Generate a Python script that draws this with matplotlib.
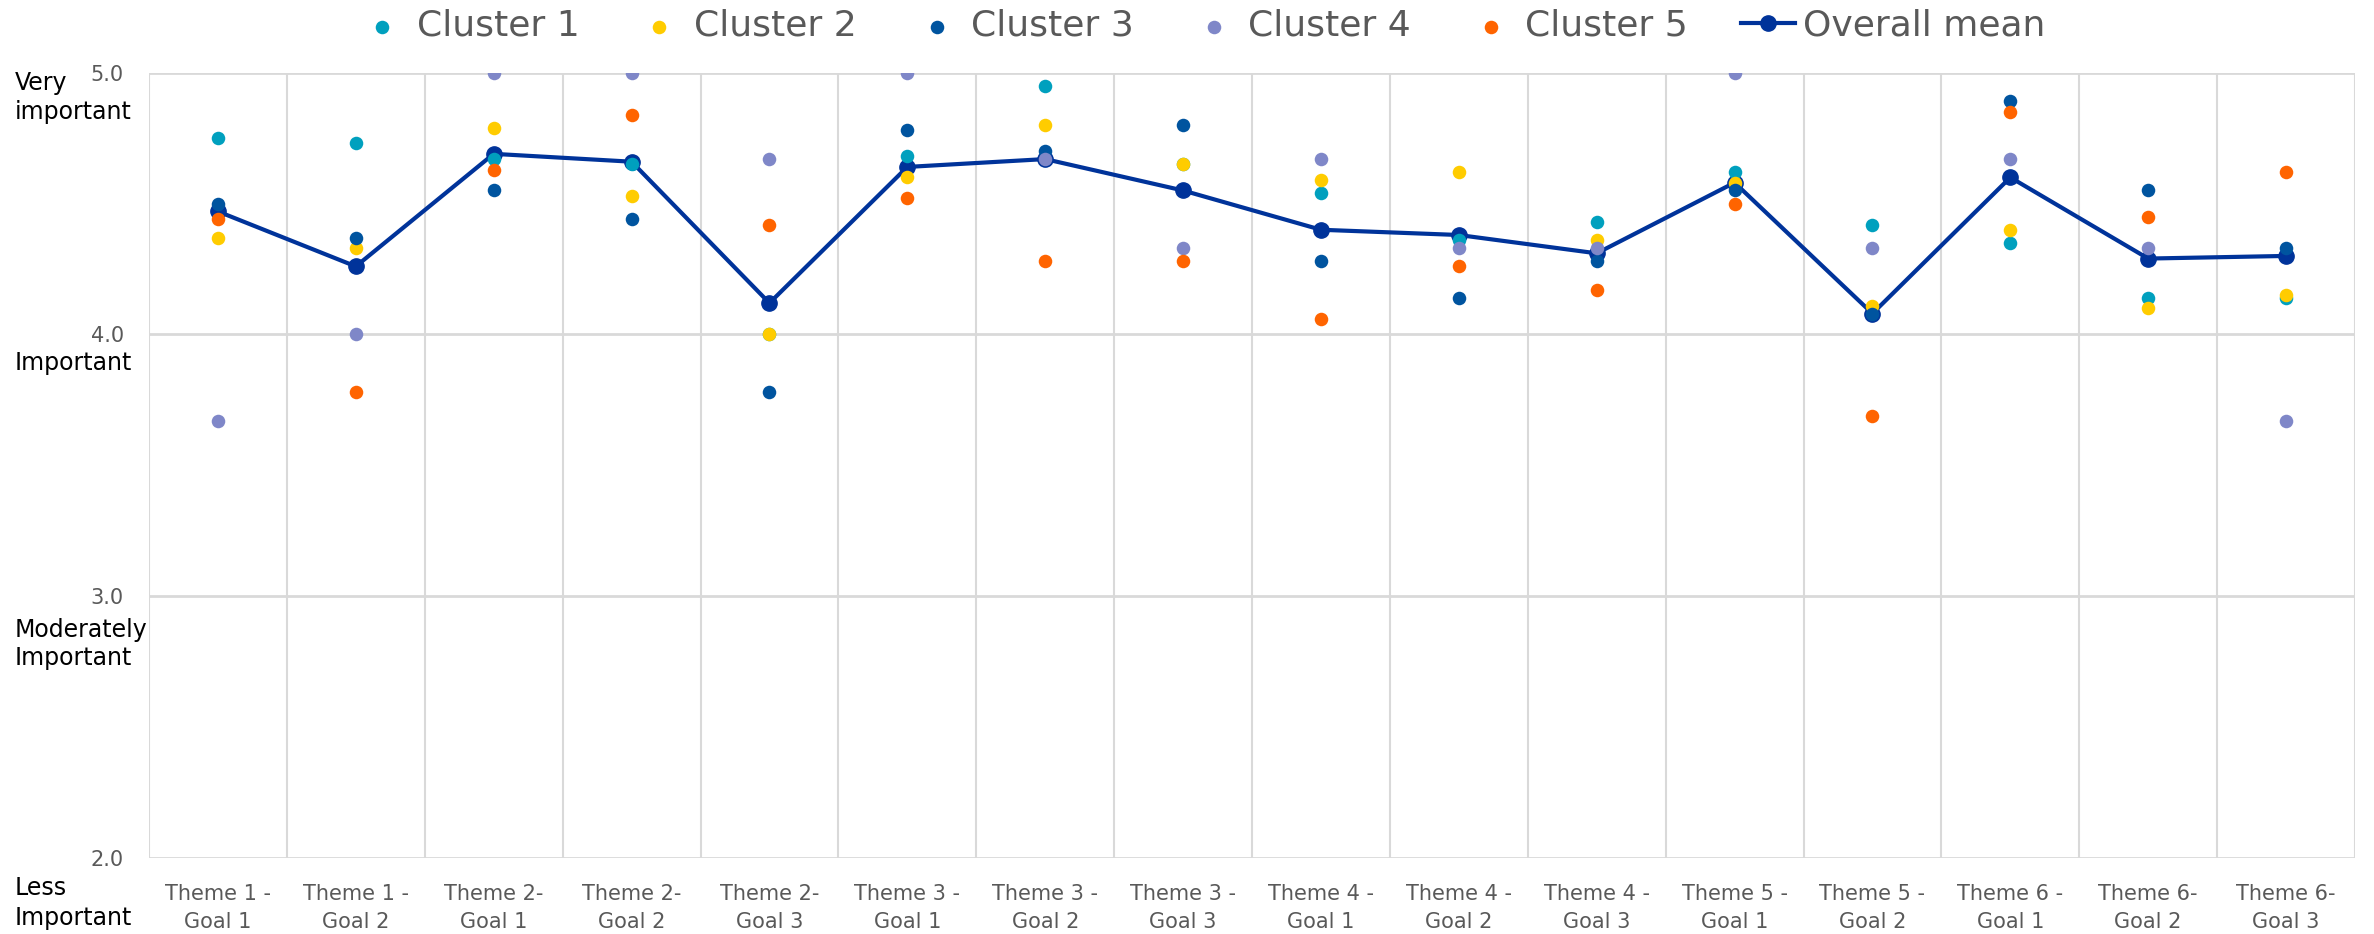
import matplotlib
matplotlib.use('agg')
import matplotlib.pyplot as plt
import numpy as np

categories = ['Theme 1 -\nGoal 1', 'Theme 1 -\nGoal 2', 'Theme 2-\nGoal 1', 'Theme 2-\nGoal 2',
              'Theme 2-\nGoal 3', 'Theme 3 -\nGoal 1', 'Theme 3 -\nGoal 2', 'Theme 3 -\nGoal 3',
              'Theme 4 -\nGoal 1', 'Theme 4 -\nGoal 2', 'Theme 4 -\nGoal 3', 'Theme 5 -\nGoal 1',
              'Theme 5 -\nGoal 2', 'Theme 6 -\nGoal 1', 'Theme 6-\nGoal 2', 'Theme 6-\nGoal 3']

cluster1 = [4.75, 4.73, 4.67, 4.65, 4.00, 4.68, 4.95, 4.65, 4.54, 4.36, 4.43, 4.62, 4.42, 4.35, 4.14, 4.14]
cluster2 = [4.37, 4.33, 4.79, 4.53, 4.00, 4.60, 4.80, 4.65, 4.59, 4.62, 4.36, 4.58, 4.11, 4.40, 4.10, 4.15]
cluster3 = [4.50, 4.37, 4.55, 4.44, 3.78, 4.78, 4.70, 4.80, 4.28, 4.14, 4.28, 4.55, 4.08, 4.89, 4.55, 4.33]
cluster4 = [3.67, 4.00, 5.00, 5.00, 4.67, 5.00, 4.67, 4.33, 4.67, 4.33, 4.33, 5.00, 4.33, 4.67, 4.33, 3.67]
cluster5 = [4.44, 3.78, 4.63, 4.84, 4.42, 4.52, 4.28, 4.28, 4.06, 4.26, 4.17, 4.50, 3.69, 4.85, 4.45, 4.62]
overall_mean = [4.47, 4.26, 4.69, 4.66, 4.12, 4.64, 4.67, 4.55, 4.40, 4.38, 4.31, 4.58, 4.08, 4.60, 4.29, 4.30]

cluster_names = ['Cluster 1', 'Cluster 2', 'Cluster 3', 'Cluster 4', 'Cluster 5']
cluster_colors = ['#00A0BE', '#FFCC00', '#00549F', '#7F87C8', '#FF6400']
mean_color = '#00339A'

y_ticks = [2.0, 3.0, 4.0, 5.0]
# scale words written beside the y ticks, one entry per text line
scale_words = ['Very', 'important', 'Important', 'Moderately', 'Important', 'Less', 'Important']
scale_word_y = [4.961, 4.850, 3.890, 2.870, 2.763, 1.885, 1.770]


def main():
	fig = plt.figure(figsize=(23.74, 9.34), dpi=100)
	ax = fig.add_axes([149/2374, 1-858/934, (2355-149)/2374, (858-72.7)/934])
	x = np.arange(len(categories))

	mline, = ax.plot(x, overall_mean, color=mean_color, lw=3, marker='o', ms=11,
	                 zorder=3, label='Overall mean')
	handles = []
	for vals, name, col in zip([cluster1, cluster2, cluster3, cluster4, cluster5], cluster_names, cluster_colors):
		h = ax.scatter(x, vals, s=95, color=col, zorder=4, label=name, linewidths=0)
		handles.append(h)
	handles.append(mline)

	ax.set_xlim(-0.5, len(categories)-0.5)
	ax.set_ylim(2.0, 5.0)
	ax.set_yticks(y_ticks)
	ax.set_yticklabels(['%.1f' % v for v in y_ticks])
	ax.set_xticks(x)
	ax.set_xticklabels(categories)
	ax.tick_params(axis='both', length=0, labelsize=15, labelcolor='#595959')
	ax.tick_params(axis='y', pad=18)
	ax.tick_params(axis='x', pad=19)
	for lab in ax.get_xticklabels():
		lab.set_linespacing(1.45)

	# grid: horizontal at ticks, vertical at category borders
	for yv in y_ticks:
		ax.axhline(yv, color='#D9D9D9', lw=2, zorder=0)
	for xv in np.arange(-0.5, len(categories), 1.0):
		ax.axvline(xv, color='#D9D9D9', lw=1.5, zorder=0)
	for s in ax.spines.values():
		s.set_visible(False)

	for txt, yv in zip(scale_words, scale_word_y):
		ax.text(-0.0607, yv, txt, transform=ax.get_yaxis_transform(), ha='left', va='center',
		        fontsize=17, color='black')

	fig.legend(handles=handles, labels=cluster_names + ['Overall mean'], loc='center',
	           bbox_to_anchor=(0.5055, 1-26/934), ncol=6, frameon=False, fontsize=26,
	           labelcolor='#595959', markerscale=1.0, handletextpad=0.2, columnspacing=1.47,
	           handlelength=1.5, scatterpoints=1, borderpad=0.1)

	fig.savefig('out.png', dpi=100)


main()
